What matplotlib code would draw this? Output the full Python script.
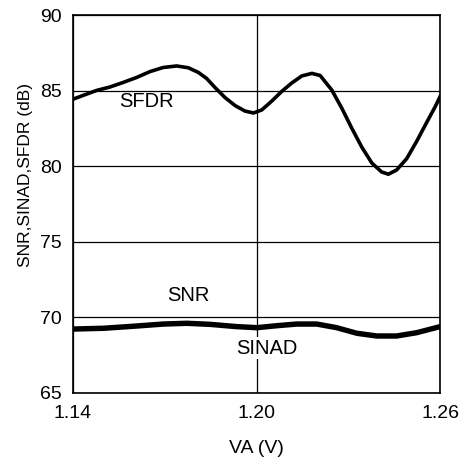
import matplotlib
matplotlib.use('Agg')
import matplotlib.pyplot as plt

plt.rcParams['font.family'] = ['Liberation Sans', 'DejaVu Sans']

# SFDR curve
sfdr_va = [1.1401, 1.1434, 1.1477, 1.1521, 1.1564, 1.1608, 1.1652, 1.1695,
           1.1739, 1.1777, 1.1810, 1.1837, 1.1864, 1.1897, 1.1930, 1.1962,
           1.1990, 1.2017, 1.2050, 1.2082, 1.2115, 1.2148, 1.2181, 1.2208,
           1.2246, 1.2279, 1.2311, 1.2344, 1.2377, 1.2409, 1.2431, 1.2458,
           1.2491, 1.2524, 1.2557, 1.2584, 1.2600]
sfdr_db = [84.44, 84.69, 85.01, 85.24, 85.54, 85.87, 86.26, 86.53,
           86.63, 86.51, 86.20, 85.80, 85.21, 84.54, 84.01, 83.65,
           83.52, 83.72, 84.31, 84.94, 85.50, 85.97, 86.14, 86.00,
           85.04, 83.83, 82.53, 81.27, 80.21, 79.62, 79.47, 79.75,
           80.50, 81.66, 82.92, 83.93, 84.60]

# SNR and SINAD sit almost on top of each other
noise_va = [1.1401, 1.1499, 1.1608, 1.1695, 1.1772, 1.1848, 1.1935, 1.2001,
            1.2066, 1.2131, 1.2197, 1.2262, 1.2328, 1.2393, 1.2458, 1.2524,
            1.2600]
snr_db = [69.30, 69.35, 69.50, 69.63, 69.68, 69.61, 69.46, 69.39,
          69.52, 69.63, 69.63, 69.39, 69.02, 68.84, 68.84, 69.06, 69.46]
sinad_db = [69.16, 69.21, 69.36, 69.49, 69.54, 69.47, 69.32, 69.25,
            69.38, 69.49, 69.49, 69.25, 68.88, 68.70, 68.70, 68.92, 69.32]

x_ticks = [1.14, 1.20, 1.26]
y_ticks = [65, 70, 75, 80, 85, 90]

fig = plt.figure(figsize=(4.63, 4.59), dpi=100)
ax = fig.add_axes([0.1577, 0.1438, 0.7927, 0.8235])

ax.plot(sfdr_va, sfdr_db, color='black', linewidth=2.6, zorder=3,
        solid_joinstyle='round')
ax.plot(noise_va, snr_db, color='black', linewidth=2.4, zorder=3,
        solid_joinstyle='round')
ax.plot(noise_va, sinad_db, color='black', linewidth=2.4, zorder=3,
        solid_joinstyle='round')

ax.set_xlim(1.14, 1.26)
ax.set_ylim(65, 90)
ax.set_xticks(x_ticks)
ax.set_xticklabels(['%.2f' % v for v in x_ticks])
ax.set_yticks(y_ticks)
ax.grid(True, color='black', linewidth=0.9)
ax.set_axisbelow(True)
ax.tick_params(length=0, labelsize=14, pad=8)
ax.tick_params(axis='x', pad=9)
for s in ax.spines.values():
    s.set_linewidth(1.2)

ax.text(1.1641, 84.25, 'SFDR', fontsize=14.5, ha='center', va='center', zorder=4)
ax.text(1.1776, 71.48, 'SNR', fontsize=14.5, ha='center', va='center', zorder=4)
ax.text(1.2033, 67.96, 'SINAD', fontsize=14.5, ha='center', va='center', zorder=4,
        bbox=dict(facecolor='white', edgecolor='none', pad=1))

ax.set_xlabel('VA (V)', fontsize=14)
ax.set_ylabel('SNR,SINAD,SFDR (dB)', fontsize=12.5)
ax.xaxis.set_label_coords(0.5, -0.125)
ax.yaxis.set_label_coords(-0.109, 0.577)

fig.savefig('out.png', dpi=100)
